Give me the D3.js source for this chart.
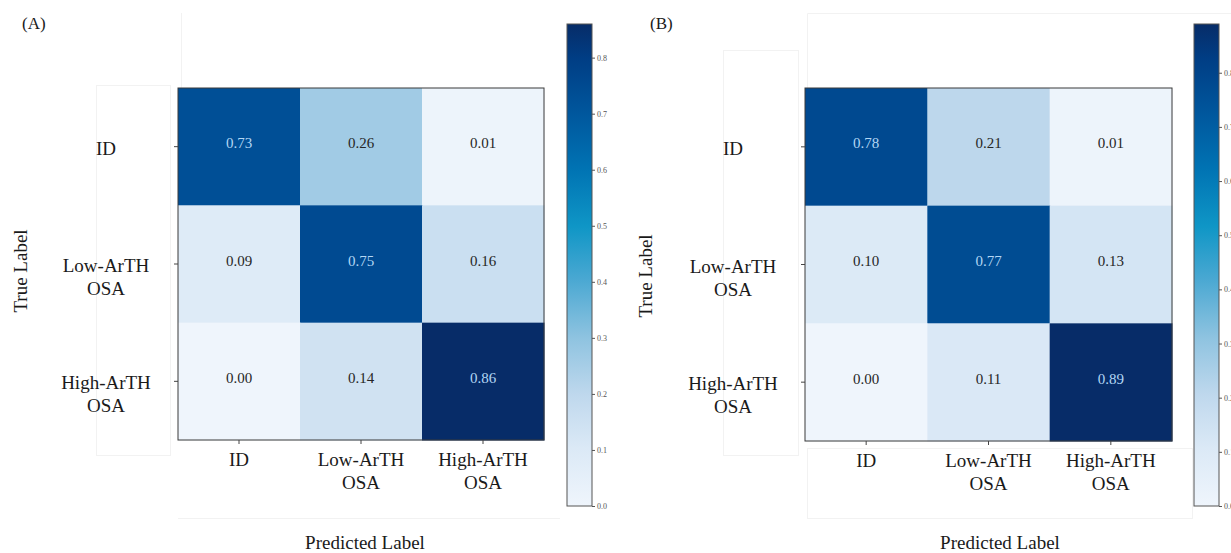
<!DOCTYPE html>
<html>
<head>
<meta charset="utf-8">
<script src="https://cdn.jsdelivr.net/npm/d3@7/dist/d3.min.js"></script>
<style>
  html, body { margin: 0; padding: 0; background: #fff; }
  svg { display: block; }
  svg text { font-family: "Liberation Serif", "Times New Roman", Tinos, "DejaVu Serif", serif !important; }
</style>
</head>
<body>
<svg id="chart" width="1231" height="553" font-family="Liberation Serif, Times New Roman, serif"></svg>
<script>
// ---- data ----
const categories = ["ID", "Low-ArTH\nOSA", "High-ArTH\nOSA"];
const matrixA = [
  [0.73, 0.26, 0.01],
  [0.09, 0.75, 0.16],
  [0.00, 0.14, 0.86]
];
const matrixB = [
  [0.78, 0.21, 0.01],
  [0.10, 0.77, 0.13],
  [0.00, 0.11, 0.89]
];
const maxA = 0.86;
const maxB = 0.89;
const colorbarTicks = [0.0, 0.1, 0.2, 0.3, 0.4, 0.5, 0.6, 0.7, 0.8];
const panelLabels = ["(A)", "(B)"];
const xTitle = "Predicted Label";
const yTitle = "True Label";

// colormap stops (normalised position -> colour)
const cmapPos = [0, 0.12, 0.23, 0.35, 0.47, 0.58, 0.70, 0.81, 0.93, 1];
const cmapCol = ["#eff5fc", "#dbe9f6", "#bfd8ed", "#8ec3e0", "#4aa8d2",
                 "#0f96c6", "#0073b3", "#00589e", "#003d84", "#072c68"];

const FONT = "'Liberation Serif', 'Times New Roman', serif";
const svg = d3.select("#chart");

const FAINT = "#f2f2f2";
function faintRect(x, y, w, h) {
  svg.append("rect").attr("x", x).attr("y", y).attr("width", w).attr("height", h)
    .attr("fill", "none").attr("stroke", FAINT).attr("stroke-width", 1);
}
function faintLine(x1, y1, x2, y2) {
  svg.append("line").attr("x1", x1).attr("y1", y1).attr("x2", x2).attr("y2", y2)
    .attr("stroke", FAINT).attr("stroke-width", 1);
}
// faint crop remnants
faintRect(96.5, 85.5, 74, 370);
faintLine(181.5, 13, 181.5, 88);
faintLine(178, 518.5, 560, 518.5);
faintRect(723.5, 50.5, 75, 405);
faintLine(807.5, 13.5, 1231, 13.5);
faintLine(807.5, 13.5, 807.5, 88);
faintRect(807.5, 448.5, 385, 70);

function panel(cfg) {
  const { matrix, vmax, x0, x1, y0, y1, cbX, cbY0, cbY1, label, labelX,
          yLabelX, yTitleX, yTitleY, xTitleX } = cfg;

  const t2c = d3.scaleLinear().domain(cmapPos).range(cmapCol)
    .interpolate(d3.interpolateRgb).clamp(true);
  const color = v => t2c(v / vmax);

  const x = d3.scaleBand().domain(d3.range(categories.length)).range([x0, x1]);
  const y = d3.scaleBand().domain(d3.range(categories.length)).range([y0, y1]);

  const g = svg.append("g").attr("font-family", FONT);

  // cells
  const cells = [];
  matrix.forEach((row, i) => row.forEach((v, j) => cells.push({ i, j, v })));
  g.selectAll("rect.cell").data(cells).enter().append("rect")
    .attr("class", "cell")
    .attr("x", d => x(d.j)).attr("y", d => y(d.i))
    .attr("width", x.bandwidth() + 0.5).attr("height", y.bandwidth() + 0.5)
    .attr("fill", d => color(d.v));

  g.selectAll("text.val").data(cells).enter().append("text")
    .attr("class", "val")
    .attr("x", d => x(d.j) + x.bandwidth() / 2)
    .attr("y", d => y(d.i) + y.bandwidth() / 2 + 1.5)
    .attr("text-anchor", "middle")
    .attr("font-family", FONT)
    .attr("font-size", 15)
    .attr("fill", d => d.v > vmax / 2 ? "#b3d7f4" : "#262626")
    .text(d => d3.format(".2f")(d.v));

  // frame
  g.append("rect").attr("x", x0).attr("y", y0).attr("width", x1 - x0).attr("height", y1 - y0)
    .attr("fill", "none").attr("stroke", "#3a3a3a").attr("stroke-width", 1);

  // axes
  const xAxis = d3.axisBottom(x).tickSize(4).tickFormat("");
  const yAxis = d3.axisLeft(y).tickSize(4).tickFormat("");
  const xa = g.append("g").attr("transform", `translate(0,${y1})`).call(xAxis);
  const ya = g.append("g").attr("transform", `translate(${x0},0)`).call(yAxis);
  [xa, ya].forEach(a => {
    a.select(".domain").remove();
    a.selectAll("line").attr("stroke", "#444");
  });

  // x tick labels
  categories.forEach((c, j) => {
    const lines = c.split("\n");
    const t = g.append("text").attr("text-anchor", "middle").attr("font-size", 19)
      .attr("font-family", FONT).attr("fill", "#1a1a1a");
    lines.forEach((ln, k) => {
      t.append("tspan").attr("x", x(j) + x.bandwidth() / 2)
        .attr("y", y1 + 26 + k * 23).text(ln);
    });
  });
  // y tick labels
  categories.forEach((c, i) => {
    const lines = c.split("\n");
    const t = g.append("text").attr("text-anchor", "middle").attr("font-size", 19)
      .attr("font-family", FONT).attr("fill", "#1a1a1a");
    lines.forEach((ln, k) => {
      t.append("tspan").attr("x", yLabelX)
        .attr("y", y(i) + y.bandwidth() / 2 + 8 + k * 23).text(ln);
    });
  });

  // axis titles
  g.append("text").attr("x", xTitleX).attr("y", 549).attr("text-anchor", "middle")
    .attr("font-family", FONT)
    .attr("font-size", 19).attr("fill", "#1a1a1a").text(xTitle);
  g.append("text").attr("transform", `translate(${yTitleX},${yTitleY}) rotate(-90)`)
    .attr("text-anchor", "middle").attr("dy", "0.35em")
    .attr("font-family", FONT)
    .attr("font-size", 19).attr("fill", "#1a1a1a").text(yTitle);

  // panel label
  g.append("text").attr("x", labelX).attr("y", 29).attr("font-size", 17)
    .attr("font-family", FONT).attr("fill", "#1a1a1a").text(label);

  // colorbar
  const cbW = 25;
  const cb = d3.scaleLinear().domain([0, vmax]).range([cbY1, cbY0]);
  const gradId = "grad" + label.replace(/\W/g, "");
  const grad = svg.append("defs").append("linearGradient").attr("id", gradId)
    .attr("x1", 0).attr("y1", 1).attr("x2", 0).attr("y2", 0);
  cmapPos.forEach((p, k) => grad.append("stop").attr("offset", p).attr("stop-color", cmapCol[k]));
  g.append("rect").attr("x", cbX).attr("y", cbY0).attr("width", cbW).attr("height", cbY1 - cbY0)
    .attr("fill", `url(#${gradId})`).attr("stroke", "#555").attr("stroke-width", 1);
  const cbAxis = d3.axisRight(cb).tickValues(colorbarTicks).tickSize(3)
    .tickFormat(d3.format(".1f")).tickPadding(2);
  const ca = g.append("g").attr("transform", `translate(${cbX + cbW},0)`).call(cbAxis);
  ca.attr("font-family", FONT);
  ca.select(".domain").remove();
  ca.selectAll("line").attr("stroke", "#555");
  ca.selectAll("text").attr("font-size", 8).attr("fill", "#555")
    .attr("font-family", FONT);
}

panel({ matrix: matrixA, vmax: maxA, x0: 178, x1: 544, y0: 88, y1: 440,
        cbX: 567, cbY0: 24, cbY1: 506, label: panelLabels[0], labelX: 22,
        yLabelX: 106, yTitleX: 20, yTitleY: 271, xTitleX: 365 });
panel({ matrix: matrixB, vmax: maxB, x0: 805, x1: 1172, y0: 88, y1: 441,
        cbX: 1194, cbY0: 24, cbY1: 506, label: panelLabels[1], labelX: 650,
        yLabelX: 733, yTitleX: 645, yTitleY: 276, xTitleX: 1000 });
</script>
</body>
</html>
